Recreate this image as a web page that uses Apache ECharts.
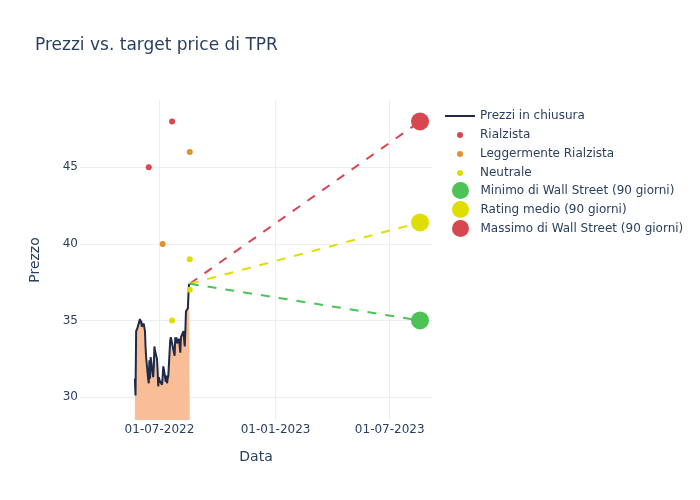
<!DOCTYPE html>
<html>
<head>
    <meta charset="utf-8">
    <script src="https://cdnjs.cloudflare.com/ajax/libs/echarts/6.0.0/echarts.min.js"></script>
</head>
<body>
    <div id="main"></div>
    <style>
html,body { margin: 0; padding: 0; }
#main { width: 700px; height: 500px; }
    </style>
    <script type="text/javascript">
var priceDates = [
    '2022-05-23','2022-05-24','2022-05-25','2022-05-26','2022-05-27','2022-05-31',
    '2022-06-01','2022-06-02','2022-06-03','2022-06-06','2022-06-07','2022-06-08','2022-06-09','2022-06-10',
    '2022-06-13','2022-06-14','2022-06-15','2022-06-16','2022-06-17','2022-06-21','2022-06-22','2022-06-23',
    '2022-06-24','2022-06-27','2022-06-28','2022-06-29','2022-06-30',
    '2022-07-01','2022-07-05','2022-07-06','2022-07-07','2022-07-08','2022-07-11','2022-07-12','2022-07-13',
    '2022-07-14','2022-07-15','2022-07-18','2022-07-19','2022-07-20','2022-07-21','2022-07-22','2022-07-25',
    '2022-07-26','2022-07-27','2022-07-28','2022-07-29',
    '2022-08-01','2022-08-02','2022-08-03','2022-08-04','2022-08-05','2022-08-08','2022-08-09','2022-08-10',
    '2022-08-11','2022-08-12','2022-08-15','2022-08-16','2022-08-17','2022-08-18'
];
var priceValues = [
    31.2, 30.1, 34.3, 34.4, 34.5, 35.1,
    34.8, 35.0, 34.6, 34.8, 34.7, 34.3, 33.2, 32.5,
    31.2, 30.9, 32.4, 31.2, 32.6, 31.3, 32.0, 33.3,
    33.0, 32.5, 31.8, 30.7, 31.3,
    31.1, 30.8, 31.3, 32.0, 31.8, 31.0, 31.4, 30.9,
    31.2, 31.4, 33.7, 33.9, 34.0, 33.9, 33.8, 32.7,
    33.9, 33.6, 33.9, 33.5,
    33.8, 33.7, 32.9, 33.9, 34.0, 34.3, 34.4, 33.3,
    34.3, 35.6, 35.8, 36.8, 37.4, 37.4
];

var rialzistaDates = ['2022-06-14', '2022-07-21'];
var rialzistaValues = [45, 48];
var leggermenteDates = ['2022-07-06', '2022-08-18'];
var leggermenteValues = [40, 46];
var neutraleDates = ['2022-07-21', '2022-08-18', '2022-08-18'];
var neutraleValues = [35, 39, 37];

var lastDate = '2022-08-18';
var lastPrice = 37.4;
var targetDate = '2023-08-18';
var targetMin = 35.0;
var targetAvg = 41.4;
var targetMax = 48.0;

var xMin = '2022-02-25', xMax = '2023-09-06';
var xTicks = ['2022-07-01', '2023-01-01', '2023-07-01'];
var yTicks = [30, 35, 40, 45];

var font = 'DejaVu Sans';
var textColor = '#2a3f5f';
var gridColor = '#ebeff4';
var red = '#d8464f', orange = '#df922a', yellow = '#dede00', green = '#4cc257';

function t(s) { return +echarts.time.parse(s); }
function pairs(dates, values) {
    return dates.map(function (d, i) { return [t(d), values[i]]; });
}
function pad(n) { return (n < 10 ? '0' : '') + n; }

var xTickValues = xTicks.map(t);

var option = {
    animation: false,
    textStyle: { fontFamily: font, color: textColor },
    title: {
        text: 'Prezzi vs. target price di TPR',
        left: 30,
        top: 32,
        textStyle: { fontSize: 17, fontWeight: 'normal', color: textColor, fontFamily: font }
    },
    grid: { left: 80, right: 268, top: 100, bottom: 80, containLabel: false },
    legend: [
        {
            left: 440, top: 105, orient: 'vertical',
            itemWidth: 30, itemHeight: 6, itemGap: 7,
            textStyle: { fontSize: 12, color: textColor, fontFamily: font },
            data: [
                { name: 'Prezzi in chiusura', icon: 'path://M0,0 L30,0 L30,2 L0,2 Z' },
                { name: 'Rialzista', icon: 'circle' },
                { name: 'Leggermente Rialzista', icon: 'circle' },
                { name: 'Neutrale', icon: 'circle' }
            ]
        },
        {
            left: 447, top: 177, orient: 'vertical',
            itemWidth: 30, itemHeight: 17, itemGap: 2,
            textStyle: { fontSize: 12, color: textColor, fontFamily: font },
            data: [
                { name: 'Minimo di Wall Street (90 giorni)', icon: 'circle' },
                { name: 'Rating medio (90 giorni)', icon: 'circle' },
                { name: 'Massimo di Wall Street (90 giorni)', icon: 'circle' }
            ]
        }
    ],
    xAxis: {
        type: 'value',
        min: t(xMin),
        max: t(xMax),
        name: 'Data',
        nameLocation: 'middle',
        nameGap: 30,
        nameTextStyle: { fontSize: 14, color: textColor, fontFamily: font },
        axisLine: { show: false },
        axisTick: { show: false, customValues: xTickValues },
        axisLabel: {
            customValues: xTickValues,
            fontSize: 12,
            color: textColor,
            margin: 4,
            formatter: function (v) {
                var d = new Date(v);
                return pad(d.getDate()) + '-' + pad(d.getMonth() + 1) + '-' + d.getFullYear();
            }
        },
        splitLine: { show: true, lineStyle: { color: gridColor, width: 1 } }
    },
    yAxis: {
        type: 'value',
        min: 28.5,
        max: 49.4,
        name: 'Prezzo',
        nameLocation: 'middle',
        nameGap: 38,
        nameTextStyle: { fontSize: 14, color: textColor, fontFamily: font },
        axisLine: { show: false },
        axisTick: { show: false, customValues: yTicks },
        axisLabel: { customValues: yTicks, fontSize: 12, color: textColor, margin: 2 },
        splitLine: { show: true, lineStyle: { color: gridColor, width: 1 } }
    },
    series: [
        {
            name: 'Prezzi in chiusura',
            type: 'line',
            symbol: 'none',
            data: pairs(priceDates, priceValues),
            lineStyle: { color: '#1f2a48', width: 2 },
            itemStyle: { color: '#1f2a48' },
            areaStyle: { color: '#f9bd98', opacity: 1, origin: 'start' },
            z: 2
        },
        {
            name: 'dashMax', type: 'line', symbol: 'none',
            data: pairs([lastDate, targetDate], [lastPrice, targetMax]),
            lineStyle: { color: red, width: 2, type: [9, 9] }, z: 3
        },
        {
            name: 'dashAvg', type: 'line', symbol: 'none',
            data: pairs([lastDate, targetDate], [lastPrice, targetAvg]),
            lineStyle: { color: yellow, width: 2, type: [9, 9] }, z: 3
        },
        {
            name: 'dashMin', type: 'line', symbol: 'none',
            data: pairs([lastDate, targetDate], [lastPrice, targetMin]),
            lineStyle: { color: green, width: 2, type: [9, 9] }, z: 3
        },
        {
            name: 'Rialzista', type: 'scatter', symbolSize: 6,
            data: pairs(rialzistaDates, rialzistaValues),
            itemStyle: { color: red, opacity: 1 }, z: 4
        },
        {
            name: 'Leggermente Rialzista', type: 'scatter', symbolSize: 6,
            data: pairs(leggermenteDates, leggermenteValues),
            itemStyle: { color: orange, opacity: 1 }, z: 4
        },
        {
            name: 'Neutrale', type: 'scatter', symbolSize: 6,
            data: pairs(neutraleDates, neutraleValues),
            itemStyle: { color: yellow, opacity: 1 }, z: 4
        },
        {
            name: 'Minimo di Wall Street (90 giorni)', type: 'scatter', symbolSize: 18,
            data: pairs([targetDate], [targetMin]),
            itemStyle: { color: green, opacity: 1 }, z: 5
        },
        {
            name: 'Rating medio (90 giorni)', type: 'scatter', symbolSize: 18,
            data: pairs([targetDate], [targetAvg]),
            itemStyle: { color: yellow, opacity: 1 }, z: 5
        },
        {
            name: 'Massimo di Wall Street (90 giorni)', type: 'scatter', symbolSize: 18,
            data: pairs([targetDate], [targetMax]),
            itemStyle: { color: red, opacity: 1 }, z: 5
        }
    ]
};

var chart = echarts.init(document.getElementById('main'));
chart.setOption(option);
    </script>
</body>
</html>
